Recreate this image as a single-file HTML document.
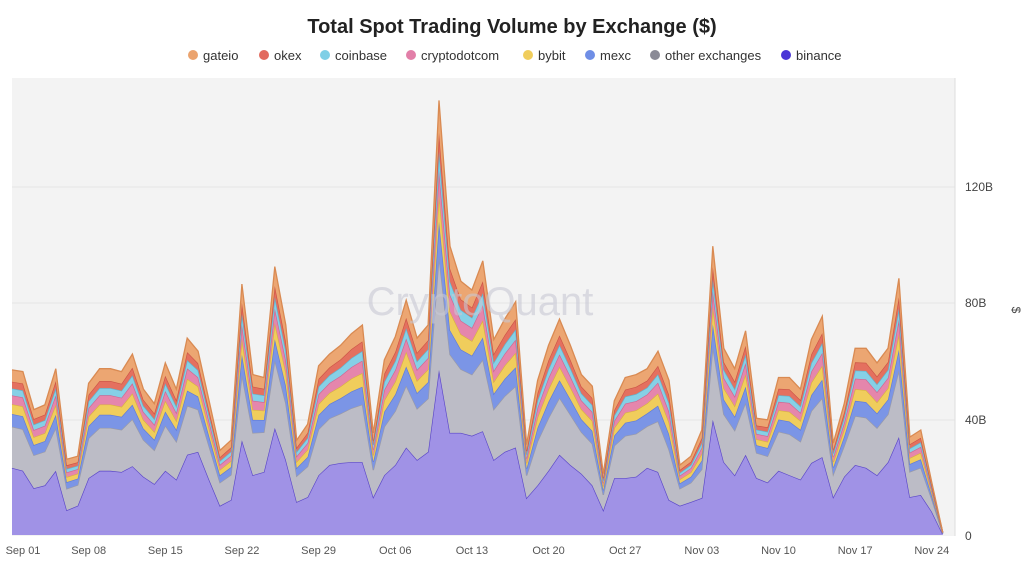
<!DOCTYPE html>
<html><head><meta charset="utf-8"><style>
html,body{margin:0;padding:0;background:#fff;width:1024px;height:563px;overflow:hidden;font-family:"Liberation Sans",sans-serif}
</style></head><body>
<svg id="s" width="1024" height="563" xmlns="http://www.w3.org/2000/svg" font-family="Liberation Sans, sans-serif">
<rect x="12" y="78" width="943" height="458" fill="#f3f3f3"/>
<g stroke="#e6e6e6" stroke-width="1">
<line x1="12" y1="420" x2="955" y2="420"/><line x1="12" y1="303" x2="955" y2="303"/><line x1="12" y1="187" x2="955" y2="187"/>
</g>
<line x1="955" y1="78" x2="955" y2="536" stroke="#ddd"/>
<text x="512" y="33" text-anchor="middle" font-size="20" font-weight="bold" fill="#222">Total Spot Trading Volume by Exchange ($)</text>
<g font-size="13" fill="#333">
<circle cx="193" cy="55" r="5" fill="#eba36e"/><text x="203" y="60">gateio</text>
<circle cx="264" cy="55" r="5" fill="#e26a5e"/><text x="274" y="60">okex</text>
<circle cx="325" cy="55" r="5" fill="#7fcfe6"/><text x="335" y="60">coinbase</text>
<circle cx="411" cy="55" r="5" fill="#e27fa8"/><text x="421" y="60">cryptodotcom</text>
<circle cx="528" cy="55" r="5" fill="#f0cd5c"/><text x="538" y="60">bybit</text>
<circle cx="590" cy="55" r="5" fill="#6f8ee6"/><text x="600" y="60">mexc</text>
<circle cx="655" cy="55" r="5" fill="#8a8a96"/><text x="665" y="60">other exchanges</text>
<circle cx="786" cy="55" r="5" fill="#4a35d6"/><text x="796" y="60">binance</text>
</g>
<g id="areas"></g>
<text x="480" y="315" text-anchor="middle" font-size="40" fill="#c8c8d4" opacity="0.6">CryptoQuant</text>
<g font-size="12" fill="#444">
<text x="965" y="191">120B</text><text x="965" y="307">80B</text><text x="965" y="424">40B</text><text x="965" y="540">0</text>
<text x="1012" y="310" transform="rotate(90 1012 310)" text-anchor="middle">$</text>
</g>
<g font-size="11" fill="#555" text-anchor="middle" id="xl"></g>
</svg>
<script>
var T=[56.6,56,43,44.6,57,26,27,52,57,57,56,62,50,45,59,50,67.5,63,46,29,32.5,86,55,54,92,72,32.5,38,58,62,65,69,72,35,60,68,80.5,67.5,72,149,99,87,84,94,67,74,80,31,53,65,74,65,55,51,21,46,54,55,57,63,53,24,27,36,99,64,57,70,40,39.5,54,54,50,67,75,31.5,45,64,64,59,64,88,33.6,36,18,1];
var B=[23,22,16,17,22,8.5,10,19.5,22,22,21.6,23.6,20,17.5,22,19,27.5,28.5,19,10,12,32.5,20.5,21.6,36.7,25.7,11.3,13,20.5,24,24.7,25,25,13,20.5,24,30,25.7,28.5,56.6,35,35,34,35.6,25.7,28.5,30,12.7,17,22,27.5,24,21,17,8.5,19.5,19.5,20,23,21.6,12,10,11.3,12.7,39.5,25,20.5,27.5,19.5,18,22,20.5,19,24.7,26.7,13,20,24,23,20.5,25,33.6,13,13.7,8,0.3];
var fr=[0.42,0.13,0.1,0.09,0.07,0.07,0.12];
var cols=["#bcbcc6","#7b95e6","#f0cd5c","#e586ac","#86d0e6","#e4705f","#eca672"];
var lc=["#9a9aa6","#5f7bd8","#d9b340","#cf6690","#5fb6d0","#cc5546","#d98a52"];
function X(d){return 12+d*10.95}function Y(v){return 535-v*2.917}
var n=T.length,prev=B.slice(),g=document.getElementById('areas'),ns="http://www.w3.org/2000/svg";
function add(lo,hi,c,l){var p="M"+X(0)+","+Y(hi[0]);for(var i=1;i<n;i++)p+="L"+X(i).toFixed(1)+","+Y(hi[i]).toFixed(1);for(var i=n-1;i>=0;i--)p+="L"+X(i).toFixed(1)+","+Y(lo[i]).toFixed(1);p+="Z";
var e=document.createElementNS(ns,"path");e.setAttribute("d",p);e.setAttribute("fill",c);g.appendChild(e);
var q="M"+X(0)+","+Y(hi[0]);for(var i=1;i<n;i++)q+="L"+X(i).toFixed(1)+","+Y(hi[i]).toFixed(1);
var f=document.createElementNS(ns,"path");f.setAttribute("d",q);f.setAttribute("fill","none");f.setAttribute("stroke",l);f.setAttribute("stroke-width","1.3");g.appendChild(f);}
add(B.map(function(){return 0}),B,"#a092e6","#5a46c8");
var cum=0;
for(var k=0;k<7;k++){cum+=fr[k];var hi=[];for(var i=0;i<n;i++)hi.push(B[i]+(T[i]-B[i])*cum);add(prev,hi,cols[k],lc[k]);prev=hi;}
var lab=["Sep 01","Sep 08","Sep 15","Sep 22","Sep 29","Oct 06","Oct 13","Oct 20","Oct 27","Nov 03","Nov 10","Nov 17","Nov 24"],xl=document.getElementById('xl');
for(var j=0;j<lab.length;j++){var t=document.createElementNS(ns,"text");var x=X(j*7);if(j==0)x=23;t.setAttribute("x",x);t.setAttribute("y",554);t.textContent=lab[j];xl.appendChild(t);}
</script>
</body></html>
